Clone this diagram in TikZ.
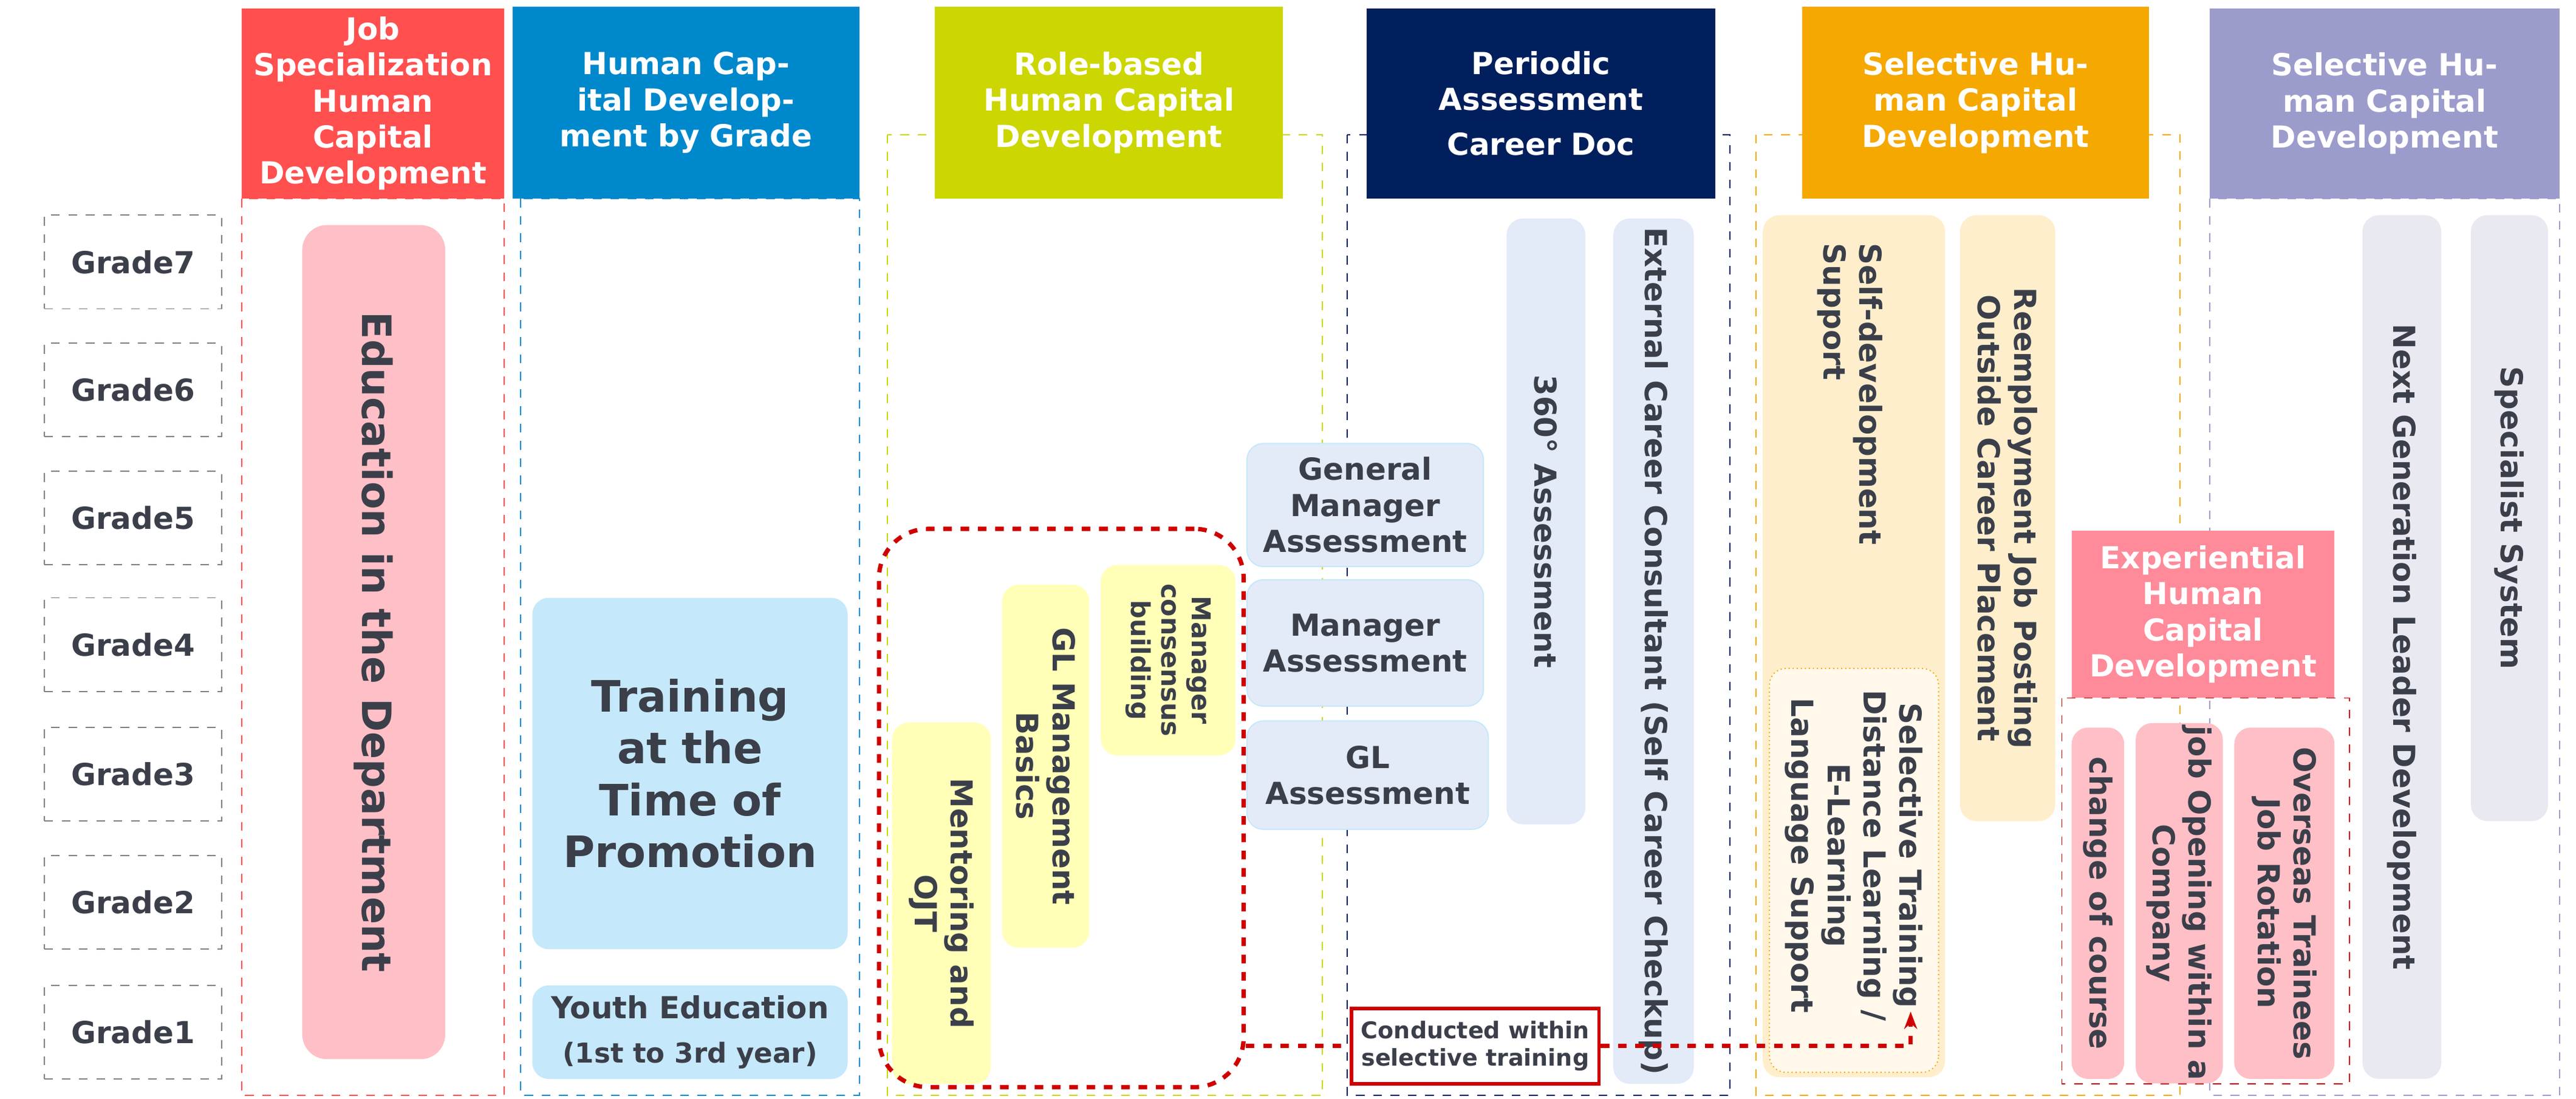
\documentclass[tikz,border=0pt]{standalone}
\usepackage{fontspec}
\setmainfont{DejaVu Sans}
\usetikzlibrary{arrows.meta}
\definecolor{txt}{HTML}{3B3F4A}
\definecolor{hred}{HTML}{FF4F4F}
\definecolor{hblue}{HTML}{0088CC}
\definecolor{hlime}{HTML}{CCD600}
\definecolor{hnavy}{HTML}{001F5C}
\definecolor{horange}{HTML}{F5A800}
\definecolor{hlav}{HTML}{9C9CCC}
\definecolor{hpink}{HTML}{FF8A99}
\definecolor{fpink}{HTML}{FFBFC6}
\definecolor{fblue}{HTML}{C5E8FA}
\definecolor{fyel}{HTML}{FFFFB8}
\definecolor{flav}{HTML}{E3EAF8}
\definecolor{fcream}{HTML}{FFEECC}
\definecolor{fgray}{HTML}{E9E9F2}
\definecolor{cred}{HTML}{D00000}
\tikzset{
  head/.style={fill=#1,text=white,font=\fontsize{10.5}{12.5}\selectfont\bfseries,align=center,inner sep=2pt},
  grade/.style={draw=gray,dashed,text=txt,font=\fontsize{10.5}{12.5}\selectfont\bfseries,minimum width=2.16cm,minimum height=1.14cm},
  box/.style={fill=#1,rounded corners=0.2cm,text=txt,font=\fontsize{10.5}{12.5}\selectfont\bfseries,align=center,inner sep=1pt},
  vbox/.style={box=#1,rotate=-90},
  vtext/.style={text=txt,font=\fontsize{10.5}{12.5}\selectfont\bfseries,rotate=-90,inner sep=1pt},
  frame/.style={draw=#1,dashed,line width=0.4pt}
}
\begin{document}
\begin{tikzpicture}[x=0.02cm,y=-0.02cm]
  \useasboundingbox (0,0) rectangle (1568,669);
  % grades
  \foreach \g/\y in {7/159.5,6/237.5,5/315.5,4/392.5,3/471.5,2/549.5,1/628.5}
    \node[grade] (g\g) at (81,\y) {Grade\g};
  % column frames
  \draw[frame=hred] (147,121) rectangle (307,667);
  \draw[frame=hblue] (317,121) rectangle (523,667);
  \draw[frame=hlime] (540,82) rectangle (805,667);
  \draw[frame=hnavy] (820,82) rectangle (1053,667);
  \draw[frame=horange] (1069,82) rectangle (1327,667);
  \draw[frame=hlav] (1345,121) rectangle (1558,667);
  % headers
  \node[head=hred,minimum width=3.2cm,minimum height=2.32cm,text width=3cm] (h1) at (227,63) {Job\\Specialization\\Human\\Capital\\Development};
  \node[head=hblue,minimum width=4.22cm,minimum height=2.34cm,text width=3.4cm] (h2) at (417.5,62.5) {Human Capital Development by Grade};
  \node[head=hlime,minimum width=4.24cm,minimum height=2.34cm,text width=3.6cm] (h3) at (675,62.5) {Role-based Human Capital Development};
  \node[head=hnavy,minimum width=4.24cm,minimum height=2.32cm,text width=3.6cm] (h4) at (938,63) {Periodic\\Assessment\\[3pt]Career Doc};
  \node[head=horange,minimum width=4.22cm,minimum height=2.34cm,text width=3.6cm] (h5) at (1202.5,62.5) {Selective Human Capital Development};
  \node[head=hlav,minimum width=4.26cm,minimum height=2.32cm,text width=3.4cm] (h6) at (1451.5,63) {Selective Human Capital Development};
  % grade column
  \node[vbox=fpink,rounded corners=0.3cm,minimum width=10.16cm,minimum height=1.74cm,font=\fontsize{14}{16}\selectfont\bfseries] (edu) at (227.5,391) {Education in the Department};
  \node[box=fblue,minimum width=3.84cm,minimum height=4.28cm,text width=3.3cm,font=\fontsize{15}{18}\selectfont\bfseries] (promo) at (420,471) {Training at the Time of Promotion};
  \node[box=fblue,minimum width=3.84cm,minimum height=1.14cm] (youth) at (420,628.5) {Youth Education\\[3pt]{\fontsize{9.5}{11}\selectfont (1st to 3rd year)}};
  % role-based
  \node[vbox=fyel,minimum width=4.4cm,minimum height=1.2cm] (ojt) at (573,550) {Mentoring and\\OJT};
  \node[vbox=fyel,minimum width=4.42cm,minimum height=1.06cm] (glm) at (636.5,466.5) {GL Management\\Basics};
  \node[vbox=fyel,minimum width=2.32cm,minimum height=1.64cm,font=\fontsize{9}{10.5}\selectfont\bfseries] (mcb) at (711,402) {Manager\\consensus\\building};
  \node[draw=cred,dashed,line width=1.5pt,rounded corners=0.6cm,minimum width=4.44cm,minimum height=6.8cm] (mf) at (646,492) {};
  % assessment
  \node[box=flav,draw=fblue,minimum width=2.88cm,minimum height=1.5cm] (gma) at (831,307.5) {General\\Manager\\Assessment};
  \node[box=flav,draw=fblue,minimum width=2.88cm,minimum height=1.54cm] (ma) at (831,391.5) {Manager\\Assessment};
  \node[box=flav,draw=fblue,minimum width=2.94cm,minimum height=1.32cm] (gla) at (832.5,472) {GL\\Assessment};
  \node[vbox=flav,minimum width=7.38cm,minimum height=0.96cm] (a360) at (941,317.5) {360° Assessment};
  \node[vbox=flav,minimum width=10.54cm,minimum height=0.98cm] (ext) at (1006.5,396.5) {External Career Consultant (Self Career Checkup)};
  % selective
  \node[vbox=fcream,minimum width=10.5cm,minimum height=2.22cm] (selfdev) at (1128.5,393.5) {};
  \node[vtext,anchor=west,align=left] (selfdevt) at (1126,146) {Self-development\\Support};
  \node[vbox=white!60!fcream,draw=horange,densely dotted,minimum width=4.92cm,minimum height=2.06cm] (seltr) at (1128.5,530) {};
  \node[vtext,anchor=west,align=center] (seltrt) at (1128.5,418) {Selective Training\\Distance Learning /\\E-Learning\\Language Support};
  \node[vbox=fcream,minimum width=7.38cm,minimum height=1.16cm] (reemp) at (1222,315.5) {Reemployment Job Posting\\Outside Career Placement};
  % experiential
  \node[head=hpink,minimum width=3.2cm,minimum height=2.04cm,text width=3cm] (h7) at (1341,374) {Experiential\\Human\\Capital\\Development};
  \draw[frame=cred] (1255,425) rectangle (1430,660);
  \node[vbox=fpink,minimum width=4.28cm,minimum height=0.64cm] (coc) at (1277,550) {change of course};
  \node[vbox=fpink,minimum width=4.28cm,minimum height=1.06cm] (job) at (1326.5,550) {job Opening within a\\Company};
  \node[vbox=fpink,minimum width=4.28cm,minimum height=1.22cm] (ovs) at (1390.5,550) {Overseas Trainees\\Job Rotation};
  % selective right
  \node[vbox=fgray,minimum width=10.52cm,minimum height=0.96cm] (ngl) at (1462,394) {Next Generation Leader Development};
  \node[vbox=fgray,minimum width=7.38cm,minimum height=0.94cm] (spec) at (1527.5,315.5) {Specialist System};
  % link
  \node[draw=cred,line width=1.2pt,fill=white,text=txt,font=\fontsize{8}{9.5}\selectfont\bfseries,align=center,minimum width=2.96cm,minimum height=0.92cm] (lbl) at (898,637) {Conducted within\\selective training};
  \coordinate (tip) at (1163,616);
  \draw[cred,dashed,line width=1.5pt] (lbl.west -| mf.east) -- (lbl.west);
  \draw[cred,dashed,line width=1.5pt,-{Stealth[length=6pt]}] (lbl.east) -| (tip);
\end{tikzpicture}
\end{document}
